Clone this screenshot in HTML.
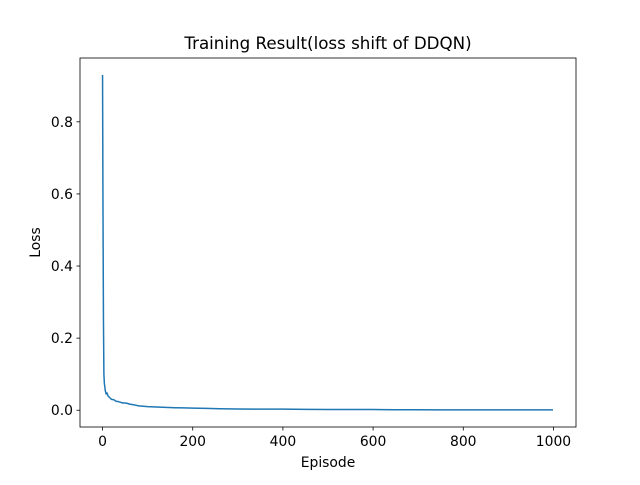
<!DOCTYPE html>
<html><head><meta charset="utf-8"><style>
body{margin:0;background:#fff;}
svg text{font-family:"DejaVu Sans","Liberation Sans",sans-serif;fill:#000;}
</style></head><body>
<svg id="chart" width="640" height="480" xmlns="http://www.w3.org/2000/svg">
<rect width="640" height="480" fill="#fff"/>
<text x="328" y="49" font-size="16.7" text-anchor="middle">Training Result(loss shift of DDQN)</text>
<g id="plot"></g>
<rect x="80" y="58" width="496" height="369" fill="none" stroke="#000" stroke-width="0.8"/>
<text x="328" y="467" font-size="13.9" text-anchor="middle">Episode</text>
<text transform="translate(40,242.5) rotate(-90)" font-size="13.9" text-anchor="middle">Loss</text>
</svg>
<script>
const episodes=[0,1,2,3,4,5,6,8,10,12,15,20,25,30,35,40,45,50,55,60,70,80,90,100,120,140,160,180,200,230,260,300,350,400,450,500,550,600,650,700,750,800,850,900,950,999];
const losses=[0.93,0.55,0.25,0.1,0.075,0.065,0.055,0.045,0.048,0.04,0.036,0.03,0.029,0.025,0.024,0.022,0.02,0.02,0.019,0.017,0.015,0.012,0.011,0.01,0.009,0.008,0.007,0.0065,0.006,0.005,0.004,0.0035,0.003,0.003,0.0025,0.002,0.002,0.002,0.0015,0.0015,0.001,0.001,0.001,0.001,0.001,0.001];
const xTicks=[0,200,400,600,800,1000];
const yTicks=[0.0,0.2,0.4,0.6,0.8];
const X0=80,X1=576,Y0=427,Y1=58,xmin=-50,xmax=1050,ymin=-0.0465,ymax=0.977;
function sx(v){return X0+(v-xmin)/(xmax-xmin)*(X1-X0);}
function sy(v){return Y0-(v-ymin)/(ymax-ymin)*(Y0-Y1);}
const g=document.getElementById('plot');const NS='http://www.w3.org/2000/svg';
xTicks.forEach(t=>{
const l=document.createElementNS(NS,'line');l.setAttribute('x1',sx(t));l.setAttribute('x2',sx(t));l.setAttribute('y1',Y0);l.setAttribute('y2',Y0+3.5);l.setAttribute('stroke','#000');l.setAttribute('stroke-width','0.8');


g.appendChild(l);
const tx=document.createElementNS(NS,'text');tx.setAttribute('x',sx(t));tx.setAttribute('y',Y0+19);tx.setAttribute('font-size','13.9');tx.setAttribute('text-anchor','middle');tx.textContent=t;


g.appendChild(tx);});
yTicks.forEach(t=>{
const l=document.createElementNS(NS,'line');l.setAttribute('x1',X0-3.5);l.setAttribute('x2',X0);l.setAttribute('y1',sy(t));l.setAttribute('y2',sy(t));l.setAttribute('stroke','#000');l.setAttribute('stroke-width','0.8');


g.appendChild(l);
const tx=document.createElementNS(NS,'text');tx.setAttribute('x',X0-7);tx.setAttribute('y',sy(t)+5);tx.setAttribute('font-size','13.9');tx.setAttribute('text-anchor','end');tx.textContent=t.toFixed(1);


g.appendChild(tx);});
const p=document.createElementNS(NS,'polyline');
p.setAttribute('points',episodes.map((e,i)=>sx(e).toFixed(2)+','+sy(losses[i]).toFixed(2)).join(' '));
p.setAttribute('fill','none');p.setAttribute('stroke','#1f77b4');p.setAttribute('stroke-width','1.5');p.setAttribute('stroke-linejoin','round');


g.appendChild(p);
</script>
</body></html>
